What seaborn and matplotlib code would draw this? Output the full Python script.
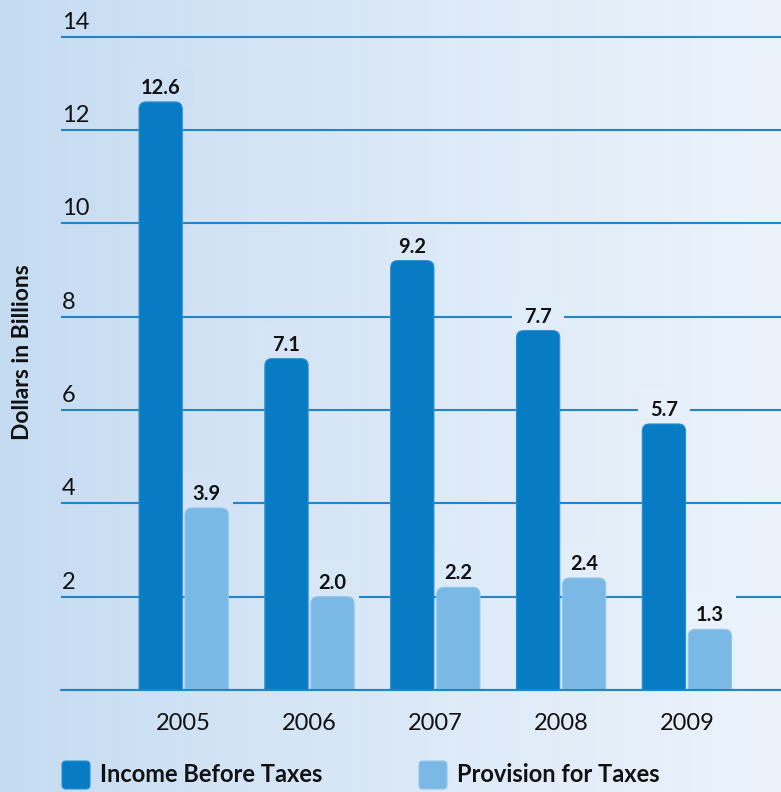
import numpy as np
import pandas as pd
import matplotlib
matplotlib.use("Agg")
import matplotlib.pyplot as plt
from matplotlib.patches import FancyBboxPatch
import seaborn as sns

# ---- data ----
years = ["2005", "2006", "2007", "2008", "2009"]
series = ["Income Before Taxes", "Provision for Taxes"]
income_before_taxes = [12.6, 7.1, 9.2, 7.7, 5.7]
provision_for_taxes = [3.9, 2.0, 2.2, 2.4, 1.3]
y_ticks = [2, 4, 6, 8, 10, 12, 14]
y_label = "Dollars in Billions"

values = [income_before_taxes, provision_for_taxes]
df = pd.DataFrame({
    "Year": years * 2,
    "Series": [series[0]] * len(years) + [series[1]] * len(years),
    "Value": income_before_taxes + provision_for_taxes,
})

# ---- style ----
sns.set_theme(style="white")
plt.rcParams["font.family"] = ["Lato", "DejaVu Sans"]
colors = ["#077bc4", "#7ab8e6"]
edge_colors = ["#2a8fd0", "#92c6ec"]
grid_color = "#1f86cd"
text_color = "#111111"

W, H = 781, 792
fig = plt.figure(figsize=(W / 100, H / 100), dpi=100)

# horizontal background gradient
c_left = np.array([196, 219, 242]) / 255
c_right = np.array([236, 243, 251]) / 255


def bg_at(px):
    t = np.clip(px / W, 0, 1) ** 0.85
    return tuple(c_left + (c_right - c_left) * t)


bg = fig.add_axes([0, 0, 1, 1], zorder=-10)
grad = np.array([bg_at(px) for px in np.arange(W)])[None, :, :]
bg.imshow(grad, aspect="auto", extent=[0, W, H, 0])
bg.set_xlim(0, W)
bg.set_ylim(H, 0)
bg.axis("off")

# main plotting area
px_per_unit = 46.67
ytop = 14.4
ax = fig.add_axes([61 / W, (H - 690) / H, 720 / W, ytop * px_per_unit / H])
ax.set_facecolor("none")

sns.barplot(data=df, x="Year", y="Value", hue="Series", palette=colors,
            saturation=1, width=0.731, gap=0.059, legend=False, ax=ax)

ax.set_xlim(-0.975, 4.748)
ax.set_ylim(0, ytop)
ax.set_yticks([0] + y_ticks)
ax.set_yticklabels([])
ax.grid(axis="y", color=grid_color, lw=1.5)
ax.grid(axis="x", visible=False)
ax.set_axisbelow(True)
for s in ax.spines.values():
    s.set_visible(False)
ax.tick_params(axis="both", length=0)
ax.tick_params(axis="x", pad=16.5, labelsize=17, labelcolor=text_color)
ax.set_xlabel("")
ax.set_ylabel("")

# y tick labels sit above their gridlines, left-aligned
for v in y_ticks:
    ax.annotate(str(v), xy=(0, v), xycoords=("axes fraction", "data"),
                xytext=(0.8, 5.8), textcoords="offset points",
                ha="left", va="baseline", fontsize=17, color=text_color)

# rounded-top bars with value labels
r_x = 0.056
aspect = 2.7
for i, container in enumerate(ax.containers):
    for patch, val in zip(container, values[i]):
        x0, w = patch.get_x(), patch.get_width()
        patch.set_visible(False)
        rb = FancyBboxPatch((x0, -1.0), w, val + 1.0,
                            boxstyle=f"round,pad=0,rounding_size={r_x}",
                            mutation_aspect=aspect, facecolor=colors[i],
                            edgecolor=edge_colors[i], lw=0.8, zorder=3)
        ax.add_patch(rb)
        cx = x0 + w / 2
        px = ax.transData.transform((cx, 0))[0]
        ax.annotate(f"{val:.1f}", xy=(cx, val), xytext=(0, 5.8),
                    textcoords="offset points", ha="center", va="baseline",
                    fontsize=14.5, fontweight="bold", color=text_color, zorder=2,
                    bbox=dict(boxstyle="square,pad=0.6", fc=bg_at(px), ec="none"))

# baseline drawn over the bar bottoms
ax.axhline(0, color=grid_color, lw=1.5, zorder=4, clip_on=False)

# axis title
fig.text(23 / W, (H - 352) / H, y_label, rotation=90, ha="center", va="center",
         fontsize=16.5, fontweight="bold", color=text_color)

# legend
legend_x = [62, 419]
for i, name in enumerate(series):
    bx = legend_x[i]
    bg.add_patch(FancyBboxPatch((bx, 761), 28, 28,
                                boxstyle="round,pad=0,rounding_size=4",
                                facecolor=colors[i], edgecolor=edge_colors[i],
                                lw=0.8))
    bg.text(bx + 38, 775, name, ha="left", va="center", fontsize=17,
            fontweight="bold", color=text_color)

fig.savefig("out.png", dpi=100)
